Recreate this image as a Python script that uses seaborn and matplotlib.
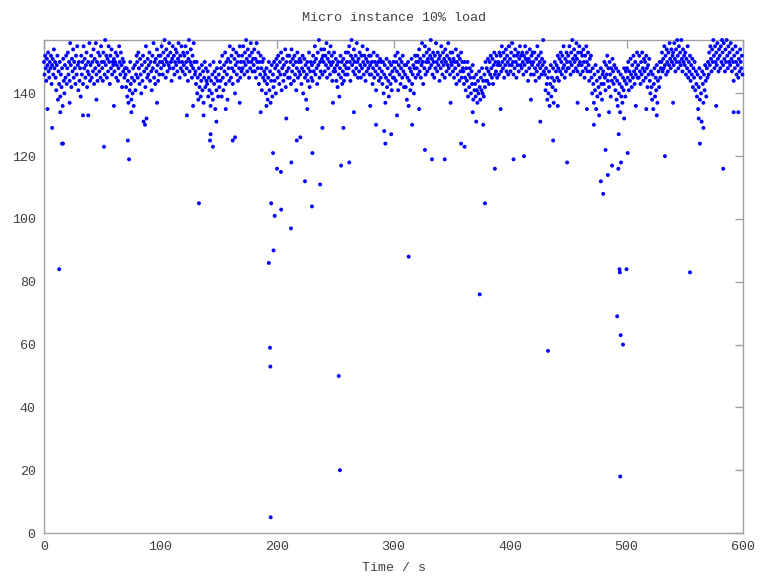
import numpy as np
import pandas as pd
import matplotlib
matplotlib.use("Agg")
import matplotlib.pyplot as plt
import seaborn as sns

# main band, two samples per second (each row = 10 s)
band_values = [
    150, 146, 152, 148, 144, 151, 149, 153, 147, 145, 150, 148, 152, 143, 149, 151, 146, 154, 148, 150,
    145, 141, 149, 152, 138, 147, 143, 150, 139, 146, 142, 148, 136, 151, 144, 140, 149, 145, 152, 143,
    148, 153, 146, 150, 144, 156, 149, 142, 151, 147, 154, 145, 150, 148, 143, 152, 146, 155, 149, 141,
    150, 144, 148, 139, 152, 146, 150, 143, 155, 148, 151, 145, 149, 153, 142, 147, 150, 146, 156, 144,
    149, 152, 145, 150, 147, 154, 143, 151, 148, 156, 146, 150, 144, 153, 149, 147, 152, 145, 155, 150,
    148, 144, 153, 150, 146, 157, 149, 152, 145, 151, 147, 155, 150, 143, 152, 148, 154, 146, 150, 149,
    151, 147, 150, 153, 145, 149, 152, 144, 148, 155, 150, 146, 153, 149, 142, 151, 147, 150, 145, 148,
    146, 142, 148, 139, 144, 137, 147, 141, 150, 143, 138, 145, 140, 148, 136, 144, 149, 141, 146, 152,
    150, 145, 153, 148, 143, 151, 146, 140, 149, 144, 152, 131, 147, 150, 142, 155, 148, 145, 151, 146,
    149, 153, 144, 150, 147, 141, 152, 148, 156, 145, 150, 143, 151, 147, 154, 149, 144, 152, 146, 150,
    152, 148, 155, 150, 146, 153, 149, 157, 151, 145, 154, 150, 147, 152, 149, 156, 148, 153, 150, 144,
    151, 155, 148, 152, 146, 150, 154, 149, 153, 147, 151, 156, 150, 145, 152, 148, 155, 150, 147, 153,
    149, 152, 146, 155, 150, 148, 153, 144, 151, 157, 147, 150, 154, 149, 145, 152, 148, 156, 150, 146,
    147, 143, 150, 140, 145, 138, 148, 142, 146, 139, 144, 149, 141, 147, 137, 145, 150, 142, 148, 144,
    143, 147, 139, 145, 141, 149, 136, 144, 140, 146, 138, 150, 143, 147, 135, 145, 141, 148, 144, 139,
    146, 142, 150, 144, 148, 139, 152, 145, 141, 149, 147, 153, 143, 150, 146, 138, 151, 148, 144, 155,
    150, 145, 152, 148, 143, 154, 147, 151, 140, 149, 153, 146, 150, 144, 152, 148, 155, 145, 150, 147,
    152, 148, 155, 150, 146, 153, 149, 157, 151, 147, 154, 150, 145, 152, 148, 156, 150, 153, 147, 151,
    149, 154, 147, 151, 145, 156, 150, 148, 153, 143, 150, 146, 152, 148, 141, 150, 145, 151, 147, 144,
    146, 140, 148, 143, 138, 145, 150, 141, 147, 137, 144, 149, 139, 146, 142, 150, 144, 148, 140, 151,
    149, 145, 152, 147, 143, 150, 146, 153, 141, 148, 151, 144, 149, 146, 154, 142, 150, 147, 152, 145,
    148, 152, 145, 150, 143, 154, 147, 151, 149, 144, 152, 146, 150, 141, 148, 153, 145, 150, 147, 151,
    146, 150, 143, 148, 152, 140, 147, 151, 145, 149, 138, 146, 150, 144, 148, 153, 142, 147, 150, 145,
    149, 144, 152, 147, 150, 155, 146, 151, 148, 143, 153, 149, 157, 145, 150, 147, 154, 151, 146, 152,
    150, 154, 147, 152, 149, 156, 145, 151, 148, 153, 150, 146, 155, 149, 152, 144, 150, 147, 153, 148,
    147, 151, 144, 149, 142, 150, 146, 139, 148, 152, 145, 150, 143, 147, 151, 144, 149, 146, 153, 148,
    150, 146, 153, 148, 155, 150, 144, 152, 157, 149, 151, 147, 154, 150, 146, 152, 148, 156, 150, 145,
    151, 147, 153, 149, 145, 152, 148, 155, 150, 146, 152, 149, 144, 151, 147, 154, 150, 148, 152, 146,
    149, 152, 146, 150, 143, 148, 153, 145, 150, 147, 141, 149, 152, 146, 150, 144, 148, 151, 145, 150,
    147, 143, 150, 140, 146, 149, 137, 145, 151, 142, 148, 144, 139, 150, 146, 143, 149, 141, 147, 145,
    150, 145, 148, 152, 144, 150, 147, 153, 141, 149, 146, 151, 143, 148, 150, 145, 152, 147, 142, 149,
    146, 142, 149, 138, 145, 150, 136, 144, 148, 141, 147, 151, 143, 146, 149, 140, 148, 152, 145, 150,
    148, 152, 146, 150, 154, 147, 151, 145, 149, 156, 150, 143, 152, 148, 155, 146, 150, 153, 147, 151,
    150, 154, 148, 152, 157, 149, 151, 146, 153, 150, 145, 152, 148, 156, 150, 147, 153, 149, 151, 144,
    152, 148, 155, 150, 146, 153, 149, 151, 145, 154, 150, 147, 152, 149, 156, 148, 151, 146, 153, 150,
    149, 153, 147, 151, 145, 150, 148, 154, 143, 150, 146, 152, 149, 144, 151, 147, 153, 145, 150, 148,
    147, 143, 150, 145, 141, 148, 144, 150, 139, 146, 142, 148, 145, 140, 147, 143, 149, 138, 145, 141,
    143, 139, 146, 141, 137, 144, 140, 147, 142, 138, 145, 141, 148, 140, 144, 139, 146, 142, 150, 144,
    148, 144, 151, 147, 143, 150, 146, 152, 148, 145, 151, 143, 149, 153, 146, 150, 147, 152, 145, 149,
    150, 146, 153, 149, 152, 147, 155, 150, 148, 153, 145, 151, 149, 154, 147, 152, 150, 146, 155, 149,
    151, 147, 153, 149, 156, 150, 146, 152, 148, 154, 150, 145, 152, 149, 153, 147, 151, 155, 149, 152,
    148, 153, 150, 146, 152, 149, 155, 151, 147, 153, 150, 144, 151, 148, 154, 150, 146, 152, 149, 153,
    150, 146, 153, 148, 144, 151, 147, 155, 149, 152, 145, 150, 148, 153, 146, 151, 149, 157, 147, 150,
    146, 141, 148, 143, 138, 145, 140, 147, 136, 143, 149, 139, 145, 142, 148, 137, 144, 150, 141, 147,
    149, 145, 152, 148, 144, 151, 147, 153, 150, 146, 152, 148, 155, 149, 145, 151, 147, 153, 150, 148,
    152, 148, 155, 150, 146, 153, 149, 157, 151, 147, 154, 150, 152, 148, 156, 151, 147, 153, 149, 155,
    150, 146, 153, 149, 152, 147, 154, 150, 145, 152, 148, 155, 150, 147, 153, 149, 144, 151, 147, 152,
    145, 140, 148, 143, 137, 146, 141, 149, 135, 144, 139, 147, 142, 133, 145, 140, 148, 143, 138, 146,
    147, 143, 150, 145, 141, 149, 146, 152, 144, 148, 142, 150, 146, 139, 148, 144, 151, 147, 143, 149,
    145, 141, 148, 138, 144, 136, 147, 140, 143, 134, 146, 139, 142, 137, 145, 141, 148, 144, 139, 147,
    143, 148, 145, 150, 141, 147, 144, 151, 146, 142, 149, 145, 152, 147, 143, 150, 146, 148, 153, 145,
    149, 145, 152, 147, 143, 150, 146, 153, 148, 144, 151, 147, 150, 145, 152, 148, 142, 149, 146, 151,
    144, 140, 147, 142, 138, 146, 135, 143, 148, 139, 145, 141, 149, 137, 144, 147, 142, 150, 145, 148,
    150, 153, 147, 151, 148, 155, 149, 152, 146, 154, 150, 147, 153, 149, 156, 151, 148, 154, 150, 152,
    153, 149, 156, 151, 147, 154, 150, 157, 152, 148, 155, 150, 153, 149, 157, 151, 147, 154, 150, 152,
    149, 153, 146, 151, 148, 155, 145, 150, 147, 152, 144, 149, 146, 151, 142, 148, 145, 150, 141, 147,
    143, 139, 146, 135, 142, 148, 138, 145, 140, 131, 147, 143, 137, 146, 141, 149, 144, 139, 148, 145,
    150, 146, 153, 149, 155, 151, 147, 154, 150, 157, 152, 148, 155, 150, 153, 149, 156, 151, 147, 154,
    152, 148, 155, 150, 157, 153, 149, 156, 151, 147, 154, 150, 157, 152, 148, 155, 150, 153, 149, 156,
    151, 147, 154, 150, 144, 152, 148, 155, 150, 146, 153, 149, 145, 151, 147, 154, 150, 148, 152, 146,
]

# isolated low samples
outlier_times = [
    7, 13, 15.5, 16.3, 33.5, 51.5, 72, 73, 86.7, 122.7, 133, 142.5, 143, 145, 162, 164,
    193, 194, 194.3, 194.6, 195, 196.6, 197, 198, 200, 203.4, 203.6, 212, 212.3, 217, 220,
    224, 230, 230.4, 237, 239, 253, 254, 255, 257, 262, 285, 292, 293, 298, 313, 327, 333,
    344, 358, 361, 374, 377, 378.5, 387, 403, 412, 432.6, 437, 449, 478, 480, 482, 484,
    487.6, 492, 493, 493.3, 494, 494.3, 494.6, 495, 495.3, 497, 500, 501, 533, 554.5, 562,
    563, 583, 592,
    # scattered samples just under the band
    3, 14, 22, 38, 45, 60, 75, 88, 97, 128, 137, 148, 156, 168, 186, 191, 208, 226,
    248, 266, 280, 303, 316, 322, 349, 368, 371, 392, 418, 426, 441, 458, 466, 472,
    485, 498, 508, 517, 526, 540, 566, 577, 596,
]
outlier_values = [
    129, 84, 124, 124, 133, 123, 125, 119, 130, 133, 105, 125, 127, 123, 125, 126,
    86, 59, 53, 5, 105, 121, 90, 101, 116, 115, 103, 97, 118, 125, 126,
    112, 104, 121, 111, 129, 50, 20, 117, 129, 118, 130, 128, 124, 127, 88, 122, 119,
    119, 124, 123, 76, 130, 105, 116, 119, 120, 58, 125, 118, 112, 108, 122, 114,
    117, 69, 116, 127, 84, 83, 18, 63, 118, 60, 84, 121, 120, 83, 132,
    124, 116, 134,
    135, 134, 137, 133, 138, 136, 134, 132, 137, 136, 133, 131, 135, 137, 134, 136, 132, 135,
    137, 134, 136, 133, 130, 135, 137, 134, 131, 135, 138, 131, 136, 137, 135, 130,
    134, 132, 136, 135, 133, 137, 129, 136, 134,
]

band_times = np.arange(len(band_values)) * 0.5
df = pd.DataFrame({
    "time": np.concatenate([band_times, outlier_times]),
    "value": np.concatenate([band_values, outlier_values]),
})

sns.set_style("white")
plt.rcParams["font.family"] = ["Liberation Mono", "DejaVu Sans Mono"]

text_color = "#404040"
frame_color = "#a0a0a0"

fig = plt.figure(figsize=(7.68, 5.76), dpi=100)
ax = fig.add_axes([44 / 768, 43 / 576, 699 / 768, 493 / 576])

sns.scatterplot(data=df, x="time", y="value", ax=ax, color="#0000ff",
                s=8, linewidth=0, edgecolor="none", clip_on=False, zorder=3)

ax.set_xlim(0, 600)
ax.set_ylim(0, 157)
ax.set_xticks(range(0, 601, 100))
ax.set_yticks(range(0, 141, 20))

for side in ["left", "right", "top", "bottom"]:
    ax.spines[side].set_visible(True)
    ax.spines[side].set_color(frame_color)
    ax.spines[side].set_linewidth(1)

ax.tick_params(axis="both", direction="in", length=6, width=1, color=frame_color,
               labelcolor=text_color, labelsize=9.6)
ax.tick_params(axis="x", top=True, pad=6)
ax.tick_params(axis="y", right=True, pad=6)

ax.set_xlabel("Time / s", fontsize=9.6, color=text_color, labelpad=6)
ax.set_ylabel("")
ax.set_title("Micro instance 10% load", fontsize=9.6, color=text_color, pad=14)

fig.savefig("out.png", dpi=100)
